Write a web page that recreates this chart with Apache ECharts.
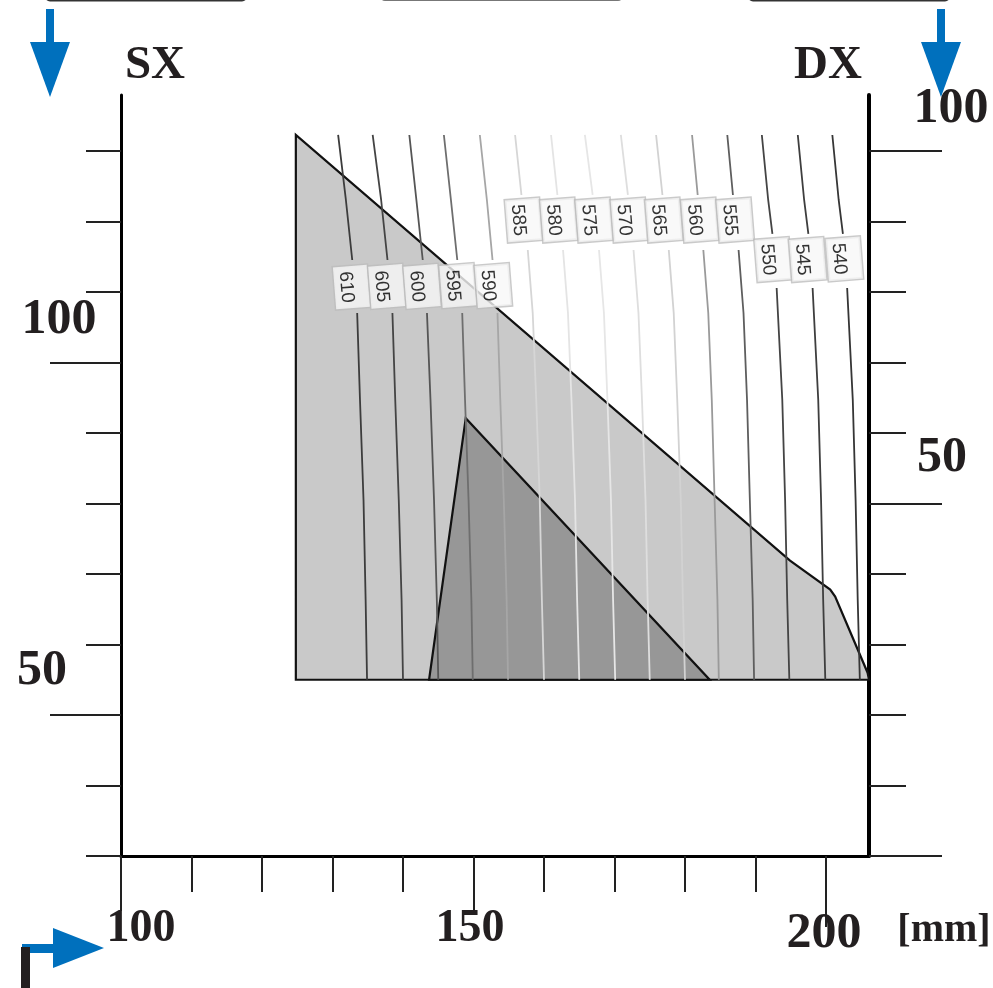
<!DOCTYPE html>
<html>
<head>
<meta charset="utf-8">
<style>html,body{margin:0;padding:0;background:#fff}#c{width:993px;height:988px}</style>
<script src="https://cdn.jsdelivr.net/npm/echarts@6/dist/echarts.min.js"></script>
</head>
<body>
<div id="c"></div>
<script>
// Axis ticks
const xTicks = [100,110,120,130,140,150,160,170,180,190,200];
const xTicksMid = [100,150];
const xTicksLong = [200];
const yTicksLeft = [20,30,40,50,60,70,80,90,100,110,120];
const yTicksLeftLong = [40,90];
const yTicksRight = [0,10,20,30,40,50,60,70,80,90,100];
const yTicksRightLong = [0,50,100];

// Isoline heights, one list per label row
const levelsA = [122.27,113.05,104.54,null,97.02,84.68,70.5,56.31,45];
const levelsB = [122.27,113.76,null,105.96,97.02,84.68,70.5,56.31,45];
const levelsC = [122.27,113.05,108.23,null,100.57,84.68,70.5,56.31,45];

// Isoline positions
const iso610 = [130.8,131.9,132.8,null,133.5,133.9,134.4,134.7,134.9];
const iso605 = [135.7,136.9,137.8,null,138.5,138.9,139.4,139.8,140.0];
const iso600 = [140.9,141.9,142.8,null,143.4,143.9,144.4,144.8,145.0];
const iso595 = [145.8,146.8,147.7,null,148.4,148.8,149.3,149.7,149.9];
const iso590 = [150.9,151.9,152.7,null,153.4,153.8,154.3,154.7,154.9];
const iso585 = [155.9,156.8,null,157.7,158.4,158.9,159.4,159.7,160.0];
const iso580 = [161.0,161.9,null,162.7,163.4,163.9,164.4,164.7,165.0];
const iso575 = [165.8,166.9,null,167.8,168.5,169.0,169.5,169.8,170.1];
const iso570 = [170.9,171.9,null,172.7,173.4,173.9,174.4,174.7,175.0];
const iso565 = [175.9,176.8,null,177.7,178.4,178.9,179.4,179.7,180.0];
const iso560 = [181.0,181.8,null,182.6,183.3,183.8,184.2,184.6,184.8];
const iso555 = [186.0,186.8,null,187.6,188.3,188.8,189.2,189.6,189.8];
const iso550 = [190.9,191.8,192.4,null,193.0,193.8,194.2,194.5,194.8];
const iso545 = [196.0,196.9,197.5,null,198.1,198.9,199.3,199.6,199.9];
const iso540 = [200.9,201.8,202.4,null,203.0,203.8,204.2,204.5,204.8];

// Isoline labels
const isoNames = ['610','605','600','595','590','585','580','575','570','565','560','555','550','545','540'];
const labelX = [132.7,137.7,142.7,147.8,152.8,157.1,162.1,167.1,172.1,177.0,182.1,187.1,192.5,197.4,202.6];
const labelY = [100.7,100.8,100.8,100.9,100.9,110.2,110.2,110.2,110.2,110.2,110.2,110.2,104.6,104.6,104.7];

// Shaded regions
const outerX = [124.8,124.8,206.1,205.9,201.3,200.6,194.9];
const outerY = [122.27,45,45,46,56.8,57.8,61.9];
const innerX = [148.9,143.7,183.5];
const innerY = [82.1,45,45];

const isoLines = [
  [iso610,levelsA,'#3c3c3c'],[iso605,levelsA,'#444444'],[iso600,levelsA,'#555555'],[iso595,levelsA,'#6e6e6e'],
  [iso590,levelsA,'#a6a6a6'],[iso585,levelsB,'#d6d6d6'],[iso580,levelsB,'#e4e4e4'],[iso575,levelsB,'#e6e6e6'],
  [iso570,levelsB,'#dedede'],[iso565,levelsB,'#d2d2d2'],[iso560,levelsB,'#9a9a9a'],[iso555,levelsB,'#5e5e5e'],
  [iso550,levelsC,'#444444'],[iso545,levelsC,'#3e3e3e'],[iso540,levelsC,'#363636']
];

function region(xs, ys, fill, z) {
  return {
    type: 'custom', z: z, silent: true, clip: false, animation: false,
    data: xs.map((x, i) => [x, ys[i]]),
    encode: {x: 0, y: 1},
    renderItem(params, api) {
      if (params.dataIndex !== 0) return null;
      return {
        type: 'polygon',
        shape: {points: xs.map((x, i) => api.coord([x, ys[i]]))},
        style: {fill: fill, stroke: '#111', lineWidth: 2.2, lineJoin: 'miter'}
      };
    }
  };
}

const lineSeries = isoLines.map(([xs, ys, color]) => ({
  type: 'line', z: 3, silent: true, animation: false, showSymbol: false, symbol: 'none',
  connectNulls: false, clip: false,
  lineStyle: {color: color, width: 1.8},
  data: xs.map((x, i) => x === null ? ['-', '-'] : [x, ys[i]])
}));

const labelBoxes = {
  type: 'scatter', zlevel: 1, z: 5, silent: true, animation: false, symbolSize: 0.01,
  data: isoNames.map((n, i) => ({name: n, value: [labelX[i], labelY[i]]})),
  label: {
    show: true, position: 'inside', rotate: -85.5, formatter: '{b}',
    fontFamily: 'Liberation Sans', fontSize: 18, color: 'rgba(0,0,0,0)',
    backgroundColor: '#f8f8f8', borderColor: '#bdbdbd', borderWidth: 1.5,
    padding: [8, 6, 8, 6], lineHeight: 18
  }
};
const labelTexts = {
  type: 'scatter', zlevel: 2, z: 6, silent: true, animation: false, symbolSize: 0.01,
  data: isoNames.map((n, i) => ({name: n, value: [labelX[i] - 0.75, labelY[i]]})),
  label: {
    show: true, position: 'inside', rotate: -85.5, formatter: '{b}',
    fontFamily: 'Liberation Sans', fontSize: 19, color: '#000', lineHeight: 18
  }
};

const tickStyle = {color: '#222', width: 2};
function xAxisDef(values, len, main) {
  return {
    type: 'value', position: 'bottom', min: 100, max: 206.1, splitLine: {show: false},
    axisLine: {show: !!main, onZero: false, lineStyle: {color: '#000', width: 3}},
    axisLabel: {show: false},
    axisTick: {show: true, length: len, customValues: values, lineStyle: tickStyle}
  };
}
function yAxisDef(pos, min, max, values, len, main, w) {
  return {
    type: 'value', position: pos, min: min, max: max, splitLine: {show: false},
    axisLine: {show: !!main, onZero: false, lineStyle: {color: '#000', width: w || 3}},
    axisLabel: {show: false},
    axisTick: {show: true, length: len, customValues: values, lineStyle: tickStyle}
  };
}

const serif = 'Liberation Serif';
function txt(t, x, y, size, align) {
  return {type: 'text', z: 60, silent: true, style: {
    text: t, x: x, y: y, fontFamily: serif, fontWeight: 'bold', fontSize: size,
    fill: '#231f20', align: align || 'center', verticalAlign: 'middle'}};
}
const blue = '#0070bd';
function poly(pts, fill) {
  return {type: 'polygon', z: 50, silent: true, shape: {points: pts}, style: {fill: fill}};
}
function bar(x, y, w, h, fill, r) {
  return {type: 'rect', z: 50, silent: true, shape: {x: x, y: y, width: w, height: h, r: r || 0}, style: {fill: fill}};
}

const chart = echarts.init(document.getElementById('c'), null, {renderer: 'canvas', width: 993, height: 988});
chart.setOption({
  backgroundColor: '#fff',
  animation: false,
  grid: {left: 121, top: 95, width: 748, height: 761, containLabel: false},
  xAxis: [xAxisDef(xTicks, 36, true), xAxisDef(xTicksMid, 55), xAxisDef(xTicksLong, 71)],
  yAxis: [
    yAxisDef('left', 20, 127.94, yTicksLeft, 35, true),
    yAxisDef('left', 20, 127.94, yTicksLeftLong, 71),
    yAxisDef('right', 0, 107.94, yTicksRight, 37, true, 4),
    yAxisDef('right', 0, 107.94, yTicksRightLong, 73)
  ],
  series: [region(outerX, outerY, '#c9c9c9', 1), region(innerX, innerY, '#979797', 2)].concat(lineSeries, [labelBoxes, labelTexts]),
  graphic: [
    bar(45, -10, 202, 11.5, '#333', 5),
    bar(381, -10, 241, 11, '#777', 4),
    bar(748, -10, 202, 11.5, '#333', 5),
    bar(46, 9, 8, 34, blue), poly([[30,42],[70,42],[50,97]], blue),
    bar(937, 9, 8, 34, blue), poly([[921,42],[961,42],[941,97]], blue),
    bar(22, 944, 32, 9, blue), poly([[53,928],[53,968],[104,948]], blue),
    bar(21, 947, 9, 41, '#231f20'),
    txt('SX', 155, 66, 47), txt('DX', 828, 66, 47),
    txt('100', 59, 320, 50), txt('50', 42, 671, 50),
    txt('100', 951, 109, 50), txt('50', 942, 458, 50),
    txt('100', 141, 929, 46), txt('150', 470, 929, 46), txt('200', 824, 934, 50),
    txt('[mm]', 944, 931, 40)
  ]
});
</script>
</body>
</html>
